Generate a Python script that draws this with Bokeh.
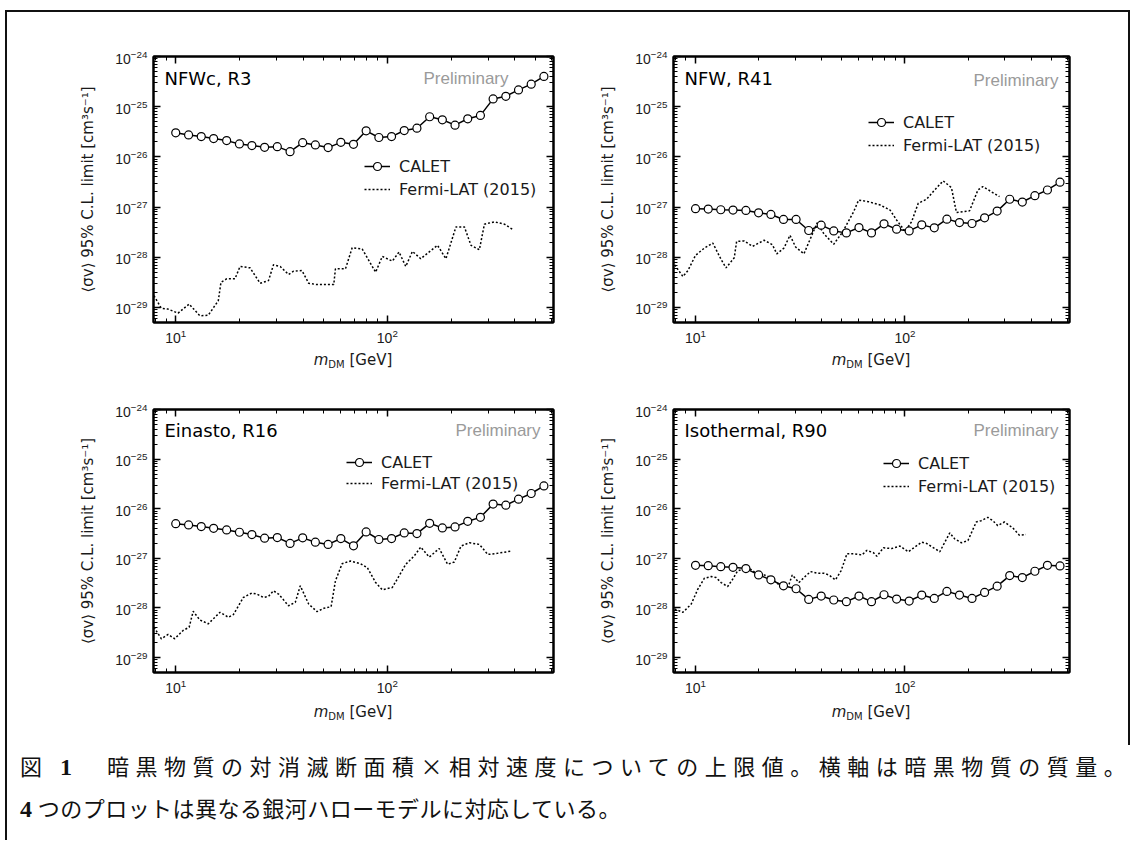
from bokeh.plotting import figure
from bokeh.models import (LogAxis, FixedTicker, LogTickFormatter, Label, Legend, LegendItem,
                          Div, Range1d, CustomJSTickFormatter, Spacer)
from bokeh.layouts import column, row
from bokeh.embed import file_html
from bokeh.resources import INLINE

# ---------------- data ----------------
calet_mass = [10.0, 11.5, 13.2, 15.1, 17.4, 20.0, 22.9, 26.3, 30.2, 34.7, 39.8, 45.7, 52.5, 60.3, 69.2,
              79.4, 91.2, 104.7, 120.2, 138.0, 158.5, 182.0, 208.9, 239.9, 275.4, 316.2, 363.1, 416.9,
              478.6, 549.5]

nfwc_calet = [3.01e-26, 2.74e-26, 2.54e-26, 2.32e-26, 2.11e-26, 1.81e-26, 1.68e-26, 1.55e-26, 1.60e-26,
              1.27e-26, 1.92e-26, 1.73e-26, 1.53e-26, 1.95e-26, 1.78e-26, 3.30e-26, 2.43e-26, 2.54e-26,
              3.35e-26, 3.73e-26, 6.30e-26, 5.48e-26, 4.29e-26, 5.74e-26, 6.70e-26, 1.43e-25, 1.61e-25,
              2.16e-25, 2.81e-25, 4.00e-25]
nfwc_fermi_mass = [7.89, 8.55, 9.20, 10.26, 11.57, 13.0, 14.24, 15.89, 16.36, 17.40, 19.05, 20.13, 22.45,
                   25.05, 27.44, 28.97, 31.17, 34.13, 36.06, 39.5, 42.48, 46.53, 55.83, 56.85, 63.42,
                   68.21, 76.07, 88.03, 94.7, 105.6, 113.6, 122.2, 131.4, 143.9, 172.7, 189.2, 211.0,
                   231.2, 248.6, 272.3, 287.6, 320.8, 357.9, 392.2]
nfwc_fermi = [1.71e-29, 9.62e-30, 9.26e-30, 7.7e-30, 1.17e-29, 6.8e-30, 7.0e-30, 1.36e-29, 3.18e-29,
              3.71e-29, 3.71e-29, 6.55e-29, 6.15e-29, 3.03e-29, 3.43e-29, 7.06e-29, 6.55e-29, 4.53e-29,
              5.27e-29, 5.44e-29, 3.03e-29, 2.85e-29, 2.85e-29, 5.88e-29, 5.88e-29, 1.55e-28, 1.46e-28,
              5.04e-29, 1.04e-28, 8.38e-29, 1.27e-28, 6.55e-29, 1.31e-28, 9.33e-29, 1.73e-28, 9.33e-29,
              4.03e-28, 4.03e-28, 1.73e-28, 1.41e-28, 4.56e-28, 5.08e-28, 4.56e-28, 3.56e-28]

nfw_calet = [9.27e-28, 9.12e-28, 8.84e-28, 8.71e-28, 8.57e-28, 7.69e-28, 7.13e-28, 5.66e-28, 5.66e-28,
             3.41e-28, 4.36e-28, 3.35e-28, 3.06e-28, 3.91e-28, 3.06e-28, 4.63e-28, 3.62e-28, 3.35e-28,
             4.42e-28, 3.85e-28, 5.75e-28, 4.92e-28, 4.70e-28, 6.11e-28, 8.31e-28, 1.43e-27, 1.26e-27,
             1.69e-27, 2.19e-27, 3.13e-27]
nfw_fermi_mass = [7.95, 8.71, 9.20, 10.0, 11.03, 12.09, 13.24, 13.98, 15.31, 15.71, 17.09, 18.72, 21.26,
                  23.29, 24.42, 26.45, 28.25, 30.05, 32.92, 38.08, 40.97, 45.67, 50.4, 56.85, 60.05,
                  66.98, 76.07, 84.87, 91.3, 100.0, 107.5, 115.7, 126.7, 136.3, 152.1, 166.6, 176.0,
                  203.4, 222.9, 235.4, 257.8, 282.5]
nfw_fermi = [7.06e-29, 4.12e-29, 5.44e-29, 1.09e-28, 1.53e-28, 1.92e-28, 9.06e-29, 6.15e-29, 9.77e-29,
             2.08e-28, 2.11e-28, 1.65e-28, 2.18e-28, 1.78e-28, 1.17e-28, 1.53e-28, 2.74e-28, 1.60e-28,
             1.17e-28, 4.85e-28, 2.96e-28, 1.81e-28, 3.20e-28, 8.05e-28, 1.38e-27, 1.28e-27, 1.10e-27,
             8.71e-28, 5.48e-28, 3.30e-28, 5.08e-28, 1.19e-27, 1.43e-27, 2.03e-27, 3.33e-27, 2.44e-27,
             7.82e-28, 8.43e-28, 2.19e-27, 2.56e-27, 2.03e-27, 1.61e-27]

einasto_calet = [5.01e-27, 4.71e-27, 4.37e-27, 4.04e-27, 3.74e-27, 3.36e-27, 3.02e-27, 2.55e-27, 2.63e-27,
                 2.00e-27, 2.59e-27, 2.12e-27, 1.91e-27, 2.51e-27, 1.79e-27, 3.41e-27, 2.40e-27, 2.51e-27,
                 3.26e-27, 3.16e-27, 5.09e-27, 4.11e-27, 4.30e-27, 5.58e-27, 6.71e-27, 1.24e-26, 1.18e-26,
                 1.56e-26, 2.03e-26, 2.88e-26]
einasto_fermi_mass = [7.89, 8.55, 9.2, 9.89, 10.83, 11.57, 12.09, 13.0, 14.24, 16.18, 17.72, 18.72, 20.87,
                      22.87, 24.15, 25.98, 27.44, 28.97, 30.6, 34.13, 36.72, 38.78, 42.48, 46.53, 50.05,
                      54.23, 56.85, 61.14, 66.98, 74.7, 80.4, 88.03, 94.7, 105.6, 122.2, 133.8, 143.9,
                      157.7, 176.0, 192.7, 207.3, 222.9, 244.2, 272.3, 298.4, 320.8, 385.0]
einasto_fermi = [4.1e-29, 2.40e-29, 2.93e-29, 2.40e-29, 3.52e-29, 4.1e-29, 8.58e-29, 5.75e-29, 4.79e-29,
                 8.19e-29, 6.5e-29, 7.36e-29, 1.63e-28, 2.0e-28, 1.91e-28, 1.63e-28, 1.71e-28, 2.22e-28,
                 1.91e-28, 1.11e-28, 1.30e-28, 2.8e-28, 1.20e-28, 8.45e-29, 9.85e-29, 1.06e-28, 3.52e-28,
                 7.82e-28, 8.85e-28, 7.82e-28, 6.5e-28, 3.26e-28, 2.33e-28, 2.59e-28, 7.59e-28, 1.11e-27,
                 1.69e-27, 1.06e-27, 1.58e-27, 7.59e-28, 8.45e-28, 1.77e-27, 2.06e-27, 1.91e-27, 1.20e-27,
                 1.24e-27, 1.40e-27]

iso_calet = [7.24e-28, 7.13e-28, 6.81e-28, 6.61e-28, 6.22e-28, 4.64e-28, 3.69e-28, 2.80e-28, 2.44e-28,
             1.49e-28, 1.74e-28, 1.45e-28, 1.34e-28, 1.74e-28, 1.34e-28, 1.85e-28, 1.51e-28, 1.38e-28,
             1.82e-28, 1.56e-28, 2.16e-28, 1.82e-28, 1.56e-28, 2.06e-28, 2.75e-28, 4.50e-28, 4.10e-28,
             5.50e-28, 7.24e-28, 7.03e-28]
iso_fermi_mass = [7.95, 8.71, 9.54, 10.26, 11.03, 11.87, 12.54, 13.24, 14.24, 15.04, 15.88, 17.72, 18.72,
                  19.77, 21.26, 22.87, 24.6, 26.45, 27.94, 28.97, 31.17, 32.92, 35.4, 38.08, 40.97, 43.26,
                  46.53, 49.5, 52.85, 56.85, 62.28, 65.77, 70.73, 73.37, 78.9, 86.47, 94.7, 103.7, 111.5,
                  120.0, 126.7, 146.6, 163.6, 172.7, 185.8, 199.8, 218.9, 231.2, 248.6, 262.6, 277.3,
                  298.4, 326.8, 351.6, 378.0]
iso_fermi = [9.55e-29, 8.19e-29, 1.20e-28, 2.4e-28, 3.98e-28, 4.3e-28, 4.1e-28, 3.26e-28, 2.71e-28,
             3.8e-28, 5.58e-28, 6.5e-28, 5.75e-28, 4.64e-28, 4.64e-28, 4.1e-28, 3.11e-28, 2.4e-28,
             3.02e-28, 4.64e-28, 3.26e-28, 4.1e-28, 5.41e-28, 5.01e-28, 5.01e-28, 4.64e-28, 3.69e-28,
             5.58e-28, 1.24e-27, 1.24e-27, 1.17e-27, 1.45e-27, 1.30e-27, 1.10e-27, 1.63e-27, 1.58e-27,
             1.77e-27, 1.36e-27, 1.69e-27, 2.12e-27, 2.0e-27, 1.36e-27, 3.26e-27, 2.47e-27, 2.06e-27,
             2.29e-27, 5.41e-27, 5.75e-27, 6.71e-27, 5.75e-27, 4.57e-27, 5.41e-27, 4.11e-27, 2.93e-27,
             3.02e-27]

panel_titles = ["NFWc, R3", "NFW, R41", "Einasto, R16", "Isothermal, R90"]
series_names = ["CALET", "Fermi-LAT (2015)"]
prelim_text = "Preliminary"

x_major = [10, 100]
x_minor = [8, 9, 20, 30, 40, 50, 60, 70, 80, 90, 200, 300, 400, 500, 600]
y_major = [1e-29, 1e-28, 1e-27, 1e-26, 1e-25, 1e-24]
y_minor = [m * d for d in [1e-30, 1e-29, 1e-28, 1e-27, 1e-26, 1e-25] for m in range(2, 10)]

ylabel = "⟨σv⟩ 95% C.L. limit [cm³s⁻¹]"

SANS = "Liberation Sans"
WIDE = "DejaVu Sans"
TXT = "#1a1a1a"


def style_axis(ax, show_labels):
    ax.axis_line_color = "black"
    ax.axis_line_width = 2
    ax.major_tick_line_color = "black"
    ax.major_tick_line_width = 1.5
    ax.minor_tick_line_color = "black"
    ax.minor_tick_line_width = 1
    ax.major_tick_in = 7
    ax.major_tick_out = 0
    ax.minor_tick_in = 4
    ax.minor_tick_out = 0
    if show_labels:
        ax.major_label_text_font = SANS
        ax.major_label_text_font_size = "14px"
        ax.major_label_text_color = TXT
        ax.major_label_standoff = 6
    else:
        ax.formatter = CustomJSTickFormatter(code="return ''")
        ax.major_label_text_font_size = "0px"
        ax.major_label_standoff = 0


def make_panel(title, calet_v, fermi_m, fermi_v, width, height, bl, br, bt, bb,
               leg_xy, leg_spacing, title_y, prelim_x, prelim_y, lab_h, lab_pad):
    p = figure(width=width, height=height, x_axis_type="log", y_axis_type="log",
               x_range=Range1d(7.85, 610), y_range=Range1d(10 ** -29.3, 1e-24),
               output_backend="svg", toolbar_location=None,
               min_border_left=bl, min_border_right=br, min_border_top=bt, min_border_bottom=bb)
    p.grid.visible = False
    p.outline_line_color = "black"
    p.outline_line_width = 2
    p.background_fill_color = "white"
    p.border_fill_color = "white"

    p.xaxis[0].ticker = FixedTicker(ticks=x_major, minor_ticks=x_minor)
    p.yaxis[0].ticker = FixedTicker(ticks=y_major, minor_ticks=y_minor)
    p.xaxis[0].formatter = LogTickFormatter()
    p.yaxis[0].formatter = LogTickFormatter()
    style_axis(p.xaxis[0], True)
    style_axis(p.yaxis[0], True)
    p.yaxis[0].axis_label = ylabel
    p.yaxis[0].axis_label_text_font = WIDE
    p.yaxis[0].axis_label_text_font_size = "15px"
    p.yaxis[0].axis_label_text_font_style = "normal"
    p.yaxis[0].axis_label_text_color = TXT
    p.yaxis[0].axis_label_standoff = 15

    top = LogAxis(ticker=FixedTicker(ticks=x_major, minor_ticks=x_minor))
    style_axis(top, False)
    p.add_layout(top, "above")
    right = LogAxis(ticker=FixedTicker(ticks=y_major, minor_ticks=y_minor))
    style_axis(right, False)
    p.add_layout(right, "right")

    fl = p.line(fermi_m, fermi_v, line_color="black", line_width=1.5, line_dash="2 2")
    cl = p.line(calet_mass, calet_v, line_color="black", line_width=1.5)
    cs = p.scatter(calet_mass, calet_v, marker="circle", size=8, fill_color="white",
                   line_color="black", line_width=1.2)

    legend = Legend(items=[LegendItem(label=series_names[0], renderers=[cl, cs]),
                           LegendItem(label=series_names[1], renderers=[fl])],
                    location=leg_xy, border_line_alpha=0, background_fill_alpha=0,
                    padding=0, margin=0, spacing=leg_spacing, glyph_width=26, glyph_height=20,
                    label_height=20, label_standoff=9, label_text_font=WIDE,
                    label_text_font_size="16px", label_text_color=TXT)
    p.add_layout(legend)

    p.add_layout(Label(x=11, y=title_y, x_units="screen", y_units="screen", text=title,
                       text_font=WIDE, text_font_size="18px", text_color="black",
                       text_baseline="middle"))
    p.add_layout(Label(x=prelim_x, y=prelim_y, x_units="screen", y_units="screen", text=prelim_text,
                       text_font=SANS, text_font_size="17px", text_color="#9a9a9a",
                       text_align="right", text_baseline="middle"))

    fw = width - bl - br
    xlab = Div(text=(
        f"<div style=\"margin-left:{bl}px;width:{fw}px;text-align:center;font-family:'DejaVu Sans';"
        f"font-size:15px;color:{TXT};line-height:20px;padding-top:{lab_pad}px;white-space:nowrap\">"
        "<i>m</i><sub style=\"font-size:10px;vertical-align:-3px\">DM</sub> [GeV]</div>"),
        width=width, height=lab_h, margin=0)
    return column(p, xlab)


def vline(h):
    return Div(text="", width=2, height=h, margin=0, styles={"background-color": "#111"})


# page origin is (0,0); outer box line at x=5..7, y=10..12
# row 1: frame height 266, row 2: 263
c1 = make_panel(panel_titles[0], nfwc_calet, nfwc_fermi_mass, nfwc_fermi,
                588, 338, 146, 42, 44, 28, (211, 123), 3, 244, 355, 244, 35, 0)
c2 = make_panel(panel_titles[1], nfw_calet, nfw_fermi_mass, nfw_fermi,
                533, 338, 78, 59, 44, 28, (195, 167), 3, 244, 385, 242, 35, 0)
c3 = make_panel(panel_titles[2], einasto_calet, einasto_fermi_mass, einasto_fermi,
                588, 315, 146, 42, 24, 28, (193, 179), 1, 242, 387, 242, 45, 2)
c4 = make_panel(panel_titles[3], iso_calet, iso_fermi_mass, iso_fermi,
                533, 315, 78, 59, 24, 28, (210, 176), 3, 242, 385, 242, 45, 2)

top_line = Div(text="", width=1125, height=2, margin=0, styles={"background-color": "#111"})
body = row(vline(733), column(row(c1, c2), row(c3, c4)), vline(733))

cap_html = (
    "<div style=\"font-family:'Noto Sans CJK JP',sans-serif;font-size:22px;color:#111;"
    "line-height:40px;padding-left:13px;padding-top:0px;\">"
    "<div style=\"letter-spacing:6.5px;white-space:nowrap\">図 "
    "<b style=\"font-family:'Liberation Serif',serif;font-size:24px\">1</b>"
    "　暗黒物質の対消滅断面積×相対速度についての上限値。横軸は暗黒物質の質量。</div>"
    "<div style=\"letter-spacing:0.45px;white-space:nowrap\">"
    "<b style=\"font-family:'Liberation Serif',serif;font-size:24px\">4</b>"
    " つのプロットは異なる銀河ハローモデルに対応している。</div></div>"
)
cap = Div(text=cap_html, width=1121, height=95, margin=0)
cap_row = row(vline(95), cap)

framed = column(Spacer(width=1125, height=10, margin=0), top_line, body, cap_row)
layout = row(Spacer(width=5, height=842, margin=0), framed)

open("out.html", "w").write(file_html(layout, INLINE))
